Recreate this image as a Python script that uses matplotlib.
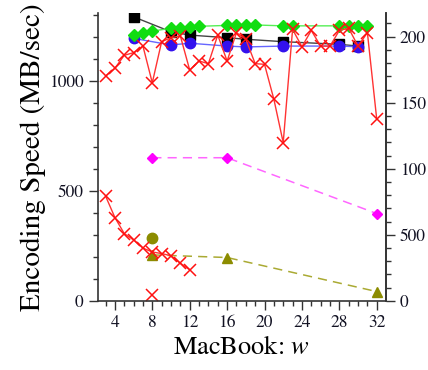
import matplotlib
matplotlib.use('Agg')
import matplotlib.pyplot as plt
from matplotlib.ticker import MultipleLocator, FixedLocator

plt.rcParams['font.family'] = 'STIXGeneral'
plt.rcParams['mathtext.fontset'] = 'stix'

# upper red series (x markers)
red_w = [3, 4, 5, 6, 7, 8, 9, 10, 11, 12, 13, 14, 15, 16, 17, 18, 19, 20, 21, 22,
         23, 24, 25, 26, 27, 28, 29, 30, 31, 32]
red_v = [1023, 1058, 1117, 1129, 1159, 992, 1179, 1197, 1205, 1050, 1091, 1079, 1209,
         1091, 1220, 1190, 1079, 1076, 917, 720, 1235, 1156, 1230, 1159, 1159, 1230,
         1240, 1159, 1220, 826]

# lower red series
red2_w = [3, 4, 5, 6, 7, 8, 9, 10, 11, 12]
red2_v = [477, 379, 306, 277, 240, 222, 215, 205, 171, 141]
red_single_w = [8]
red_single_v = [26]

black_w = [6, 10, 12, 16, 18, 22, 28, 30]
black_v = [1292, 1224, 1209, 1197, 1190, 1179, 1167, 1159]

blue_w = [6, 10, 12, 16, 18, 22, 28, 30]
blue_v = [1194, 1164, 1172, 1159, 1155, 1159, 1159, 1156]

green_w = [6, 7, 8, 10, 11, 12, 13, 16, 17, 18, 19, 22, 23, 28, 29, 30, 31]
green_v = [1211, 1220, 1227, 1240, 1242, 1245, 1249, 1253, 1253, 1253, 1255, 1251,
           1251, 1251, 1251, 1251, 1251]

magenta_w = [8, 16, 32]
magenta_v = [651, 651, 397]

olive_w = [8, 16, 32]
olive_v = [209, 197, 42]
olive_dot_w = [8]
olive_dot_v = [288]

# right axis labels (tick units)
right_ticks = [0, 5, 10, 15, 20]
right_labels = ['0', '500', '100', '150', '200']

fig = plt.figure(figsize=(4.28, 3.70), dpi=100)
ax = fig.add_axes([0.228, 0.187, 0.673, 0.777])

ax.plot(magenta_w, magenta_v, '--', color='#ff66ff', lw=1.1, dashes=(6, 4))
ax.plot(magenta_w, magenta_v, 'D', color='#ff00ff', ms=5.5, ls='none')
ax.plot(olive_w, olive_v, '--', color='#aaaa33', lw=1.1, dashes=(6, 4))
ax.plot(olive_w, olive_v, '^', color='#8c8c00', ms=7.5, ls='none')
ax.plot(olive_dot_w, olive_dot_v, 'o', color='#8c8c00', ms=7.5, ls='none')

ax.plot(black_w, black_v, '-', color='#444444', lw=1)
ax.plot(black_w, black_v, 's', color='black', ms=7.5, ls='none')
ax.plot(blue_w, blue_v, '-', color='#6666ff', lw=1)
ax.plot(blue_w, blue_v, 'o', color='#3311ee', ms=7.5, ls='none')
ax.plot(green_w, green_v, '-', color='#55ee55', lw=1)
ax.plot(green_w, green_v, 'D', color='#11dd11', ms=6, ls='none')

ax.plot(red_w, red_v, '-', color='#ff3333', lw=1)
ax.plot(red_w, red_v, 'x', color='#ff1111', ms=8.5, mew=1.1, ls='none')
ax.plot(red2_w, red2_v, '-', color='#ff3333', lw=1)
ax.plot(red2_w, red2_v, 'x', color='#ff1111', ms=8.5, mew=1.1, ls='none')
ax.plot(red_single_w, red_single_v, 'x', color='#ff1111', ms=8.5, mew=1.1, ls='none')

ax.set_xlim(2.15, 32.95)
ax.set_ylim(0, 1308)
ax.xaxis.set_major_locator(FixedLocator([4, 8, 12, 16, 20, 24, 28, 32]))
ax.xaxis.set_minor_locator(FixedLocator(list(range(3, 33))))
ax.yaxis.set_major_locator(FixedLocator([0, 500, 1000]))
ax.yaxis.set_minor_locator(MultipleLocator(100))

ax.spines['top'].set_visible(False)
for s in ['left', 'bottom', 'right']:
    ax.spines[s].set_color('#333333')
    ax.spines[s].set_linewidth(1.2)

ax.tick_params(which='major', direction='out', length=6.5, width=1, colors='#333333',
               labelsize=12.5, labelcolor='#111122')
ax.tick_params(which='minor', direction='out', length=3.5, width=1, colors='#333333')

ax2 = ax.twinx()
ax2.set_ylim(0, 21.77)
ax2.yaxis.set_major_locator(FixedLocator(right_ticks))
ax2.set_yticklabels(right_labels)
ax2.yaxis.set_minor_locator(MultipleLocator(1))
ax2.spines['top'].set_visible(False)
ax2.spines['left'].set_visible(False)
ax2.spines['bottom'].set_visible(False)
ax2.spines['right'].set_color('#333333')
ax2.spines['right'].set_linewidth(1.2)
ax2.tick_params(which='major', direction='out', length=6.5, width=1, colors='#333333',
                labelsize=12.5, labelcolor='#111122')
ax2.tick_params(which='minor', direction='out', length=3.5, width=1, colors='#333333')

ax.set_ylabel('Encoding Speed (MB/sec)', fontsize=21, labelpad=2)
ax.set_xlabel('MacBook: $w$', fontsize=19, labelpad=4)

fig.savefig('out.png', dpi=100)
